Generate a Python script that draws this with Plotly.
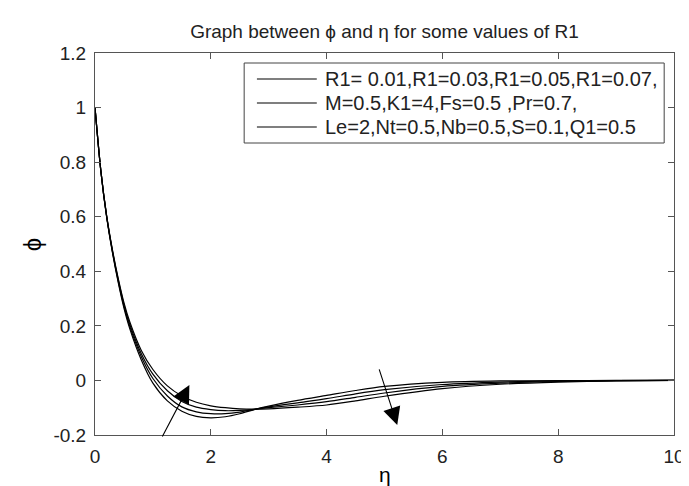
import plotly.graph_objects as go

eta = [0, 0.1, 0.2, 0.3, 0.4, 0.5, 0.6, 0.8, 1.0, 1.25, 1.5, 1.75, 2.0, 2.25, 2.5, 2.75,
       3.0, 3.5, 4.0, 4.5, 5.0, 6.0, 7.0, 8.0, 9.0, 10.0]

phi_r1_001 = [1.0, 0.77, 0.60, 0.47, 0.36, 0.265, 0.19, 0.075, -0.01, -0.075, -0.113, -0.132,
              -0.137, -0.133, -0.122, -0.107, -0.094, -0.073, -0.055, -0.037, -0.022, -0.007,
              -0.002, -0.001, 0.0, 0.0]
phi_r1_003 = [1.0, 0.77, 0.602, 0.473, 0.365, 0.272, 0.198, 0.087, 0.007, -0.057, -0.097, -0.115,
              -0.122, -0.122, -0.116, -0.106, -0.097, -0.082, -0.067, -0.049, -0.034, -0.015,
              -0.006, -0.002, -0.001, 0.0]
phi_r1_005 = [1.0, 0.77, 0.604, 0.477, 0.37, 0.278, 0.206, 0.098, 0.023, -0.038, -0.077, -0.098,
              -0.107, -0.111, -0.110, -0.106, -0.100, -0.090, -0.078, -0.062, -0.046, -0.022,
              -0.010, -0.004, -0.001, 0.0]
phi_r1_007 = [1.0, 0.77, 0.605, 0.48, 0.375, 0.285, 0.215, 0.11, 0.04, -0.02, -0.057, -0.08,
              -0.093, -0.100, -0.104, -0.105, -0.104, -0.098, -0.090, -0.075, -0.058, -0.030,
              -0.014, -0.006, -0.002, 0.0]

series = [phi_r1_001, phi_r1_003, phi_r1_005, phi_r1_007]
series_names = ["R1=0.01", "R1=0.03", "R1=0.05", "R1=0.07"]
legend_texts = [
    "R1= 0.01,R1=0.03,R1=0.05,R1=0.07,",
    "M=0.5,K1=4,Fs=0.5 ,Pr=0.7,",
    "Le=2,Nt=0.5,Nb=0.5,S=0.1,Q1=0.5",
]

x_ticks = [0, 2, 4, 6, 8, 10]
y_ticks = [-0.2, 0, 0.2, 0.4, 0.6, 0.8, 1.0, 1.2]
y_tick_labels = ["-0.2", "0", "0.2", "0.4", "0.6", "0.8", "1", "1.2"]

# arrows: (tail_x, tail_y, head_x, head_y)
arrows = [(1.15, -0.211, 1.63, -0.017), (4.9, 0.046, 5.22, -0.163)]

FONT = "Liberation Sans, Arial, sans-serif"
AXC = "#555555"
TXT = "#222222"

# plot area in pixels
L, R, T, B = 87, 677, 45, 427
W, H = 689, 486


def px(xp):
    return (xp - L) / (R - L)


def py(yp):
    return (B - yp) / (B - T)


fig = go.Figure()
for ys, name in zip(series, series_names):
    fig.add_trace(go.Scatter(
        x=eta, y=ys, mode="lines", name=name, showlegend=False,
        line=dict(color="black", width=1.2, shape="spline", smoothing=0.8),
    ))

for tx, ty, hx, hy in arrows:
    fig.add_annotation(x=hx, y=hy, ax=tx, ay=ty, xref="x", yref="y", axref="x", ayref="y",
                       text="", showarrow=True, arrowhead=2, arrowsize=3.2, arrowwidth=1.1,
                       arrowcolor="black")

# legend box drawn by hand (MATLAB-style compact rows)
fig.add_shape(type="rect", xref="paper", yref="paper", x0=px(239), x1=px(667),
              y0=py(135), y1=py(55), line=dict(color="#444444", width=1), fillcolor="white",
              layer="above")
row_y = [71, 95, 119]
for txt, ry in zip(legend_texts, row_y):
    fig.add_shape(type="line", xref="paper", yref="paper", x0=px(252), x1=px(313),
                  y0=py(ry), y1=py(ry), line=dict(color="black", width=1.1), layer="above")
    fig.add_annotation(text=txt, xref="paper", yref="paper", x=px(319), y=py(ry),
                       xanchor="left", yanchor="middle", showarrow=False,
                       font=dict(family=FONT, size=20, color=TXT))

fig.add_annotation(text="ϕ", xref="paper", yref="paper", x=px(23), y=py(237),
                   xanchor="center", yanchor="middle",
                   showarrow=False, textangle=-90, font=dict(family=FONT, size=24, color="black"))
fig.add_annotation(text="η", xref="paper", yref="paper", x=px(382), y=py(467),
                   xanchor="center", yanchor="middle",
                   showarrow=False, font=dict(family=FONT, size=21, color="black"))

fig.update_layout(
    width=W, height=H,
    margin=dict(l=L, r=W - R, t=T, b=H - B),
    paper_bgcolor="white", plot_bgcolor="white",
    title=dict(text="Graph between ϕ and η for some values of R1", x=px(382), xref="paper",
               xanchor="center", y=1 - 23 / H, yanchor="middle",
               font=dict(family=FONT, size=19, color=TXT)),
    font=dict(family=FONT, size=19, color=TXT),
    showlegend=False,
)
fig.update_xaxes(range=[0, 10], tickvals=x_ticks, ticks="inside", ticklen=6, tickcolor=AXC,
                 showline=True, linecolor=AXC, linewidth=1, mirror="ticks", showgrid=False,
                 zeroline=False, tickfont=dict(size=19), ticklabelstandoff=4)
fig.update_yaxes(range=[-0.2, 1.2], tickvals=y_ticks, ticktext=y_tick_labels, ticks="inside",
                 ticklen=6, tickcolor=AXC, showline=True, linecolor=AXC, linewidth=1,
                 mirror="ticks", showgrid=False, zeroline=False, tickfont=dict(size=19),
                 ticklabelstandoff=4)

fig.write_html("out.html")
